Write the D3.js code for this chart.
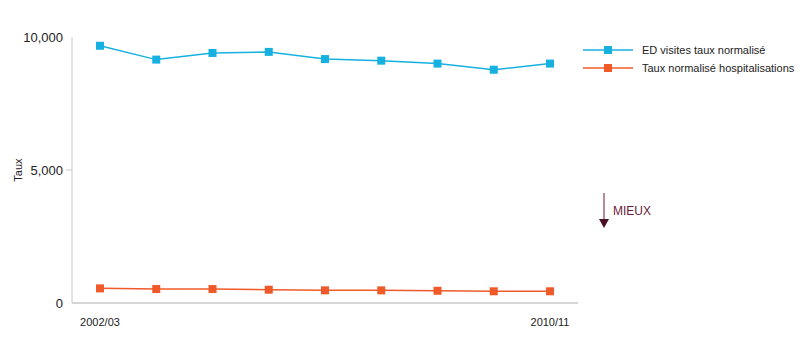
<!DOCTYPE html>
<html>
<head>
<meta charset="utf-8">
<script src="https://cdn.jsdelivr.net/npm/d3@7"></script>
<style>
  body { margin: 0; background: #fff; }
  text { font-family: "Liberation Sans", Arial, sans-serif; }
</style>
</head>
<body>
<div id="chart"></div>
<script>
// categories and series
const years = ["2002/03", "2003/04", "2004/05", "2005/06", "2006/07", "2007/08", "2008/09", "2009/10", "2010/11"];
const edVisits = [9670, 9150, 9400, 9440, 9170, 9110, 9000, 8770, 9000];
const hospitalisations = [550, 525, 525, 500, 475, 475, 460, 440, 440];
const yTicks = [0, 5000, 10000];
const seriesNames = ["ED visites taux normalisé", "Taux normalisé hospitalisations"];
const seriesColors = ["#16b1e0", "#f05a28"];

const width = 800, height = 345;

let svg = d3.select("#chart")
    .append("svg")
    .attr("width", width)
    .attr("height", height);

// scales
let x = d3.scalePoint().domain(years).range([100, 550]);
let y = d3.scaleLinear().domain([0, 10000]).range([303, 37]);

// axis lines
svg.append("line")
    .attr("x1", 72).attr("x2", 72)
    .attr("y1", y(10000)).attr("y2", y(0))
    .attr("stroke", "#c8c8c8").attr("stroke-width", 1);
svg.append("line")
    .attr("x1", 72).attr("x2", 578)
    .attr("y1", y(0)).attr("y2", y(0))
    .attr("stroke", "#c8c8c8").attr("stroke-width", 1.5);

// y ticks
let yAxis = svg.append("g");
yAxis.selectAll("line.tick")
    .data(yTicks.filter(d => d === 5000))
    .enter().append("line")
    .attr("x1", 66).attr("x2", 72)
    .attr("y1", d => y(d)).attr("y2", d => y(d))
    .attr("stroke", "#c8c8c8");
yAxis.selectAll("text")
    .data(yTicks)
    .enter().append("text")
    .attr("x", 63)
    .attr("y", d => y(d))
    .attr("dy", "0.35em")
    .attr("text-anchor", "end")
    .attr("font-size", 13)
    .attr("fill", "#222")
    .text(d => d3.format(",")(d));

// y title
svg.append("text")
    .attr("transform", "translate(22," + y(5000) + ") rotate(-90)")
    .attr("text-anchor", "middle")
    .attr("font-size", 11)
    .attr("fill", "#222")
    .text("Taux");

// x labels, only first and last
svg.selectAll("text.xlab")
    .data([years[0], years[years.length - 1]])
    .enter().append("text")
    .attr("class", "xlab")
    .attr("x", d => x(d))
    .attr("y", 326)
    .attr("text-anchor", "middle")
    .attr("font-size", 11)
    .attr("fill", "#222")
    .text(d => d);

// lines + markers
let line = d3.line().x((d, i) => x(years[i])).y(d => y(d));
[edVisits, hospitalisations].forEach((vals, s) => {
    svg.append("path")
        .attr("d", line(vals))
        .attr("fill", "none")
        .attr("stroke", seriesColors[s])
        .attr("stroke-width", 1.5);
    svg.selectAll("rect.m" + s)
        .data(vals)
        .enter().append("rect")
        .attr("class", "m" + s)
        .attr("x", (d, i) => x(years[i]) - 4)
        .attr("y", d => y(d) - 4)
        .attr("width", 8).attr("height", 8)
        .attr("fill", seriesColors[s]);
});

// legend
let legend = svg.selectAll("g.legend")
    .data(seriesNames)
    .enter().append("g")
    .attr("class", "legend")
    .attr("transform", (d, i) => "translate(583," + (50 + i * 18) + ")");
legend.append("line")
    .attr("x1", 0).attr("x2", 50)
    .attr("stroke", (d, i) => seriesColors[i])
    .attr("stroke-width", 1.5);
legend.append("rect")
    .attr("x", 21).attr("y", -4)
    .attr("width", 8).attr("height", 8)
    .attr("fill", (d, i) => seriesColors[i]);
legend.append("text")
    .attr("x", 59)
    .attr("dy", "0.35em")
    .attr("font-size", 11)
    .attr("fill", "#222")
    .text(d => d);

// "better" arrow
svg.append("line")
    .attr("x1", 604).attr("x2", 604)
    .attr("y1", 193).attr("y2", 220)
    .attr("stroke", "#6b1a3a").attr("stroke-width", 1);
svg.append("path")
    .attr("d", "M599,219 L609,219 L604,228 Z")
    .attr("fill", "#4a1026");
svg.append("text")
    .attr("x", 613).attr("y", 215)
    .attr("font-size", 12)
    .attr("fill", "#6b1a3a")
    .text("MIEUX");
</script>
</body>
</html>
